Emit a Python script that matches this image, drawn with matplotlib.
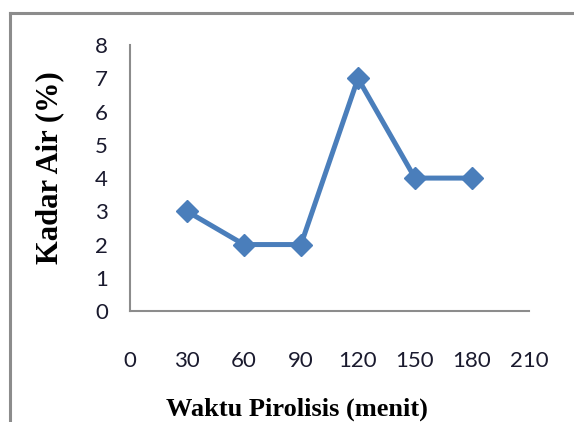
import matplotlib
matplotlib.use("Agg")
import matplotlib.pyplot as plt
from matplotlib.lines import Line2D

waktu = [30, 60, 90, 120, 150, 180]
kadar_air = [3, 2, 2, 7, 4, 4]
x_ticks = [0, 30, 60, 90, 120, 150, 180, 210]
y_ticks = [0, 1, 2, 3, 4, 5, 6, 7, 8]

fig = plt.figure(figsize=(5.74, 4.22), dpi=100)
ax = fig.add_axes([0.2265, 0.263, 0.695, 0.630])

ax.plot(waktu, kadar_air, color="#4A7EBB", linewidth=3.6, marker="D",
        markersize=11.5, markerfacecolor="#4A7EBB", markeredgecolor="#4A7EBB",
        solid_joinstyle="miter", clip_on=False, zorder=3)

ax.set_xlim(0, 210)
ax.set_ylim(0, 8)
ax.set_xticks(x_ticks)
ax.set_yticks(y_ticks)

tick_font = dict(family="Lato", size=16)
ax.set_xticklabels([str(v) for v in x_ticks], **tick_font)
ax.set_yticklabels([str(v) for v in y_ticks], **tick_font)
ax.tick_params(axis="both", length=0, colors="#1a1a2e")
ax.tick_params(axis="x", pad=29)
ax.tick_params(axis="y", pad=16)

for side in ("top", "right"):
    ax.spines[side].set_visible(False)
for side in ("left", "bottom"):
    ax.spines[side].set_color("#8C8C8C")
    ax.spines[side].set_linewidth(1.5)

ax.set_xlabel("Waktu Pirolisis (menit)", family="Liberation Serif",
              weight="bold", size=19)
ax.set_ylabel("Kadar Air (%)", family="Liberation Serif",
              weight="bold", size=22)
ax.xaxis.set_label_coords(0.4185, -0.325)
ax.yaxis.set_label_coords(-0.166, 0.541)

# frame around the chart area
fig.add_artist(Line2D([10 / 574, 1.0], [1 - 13 / 422, 1 - 13 / 422],
                      transform=fig.transFigure, color="#8C8C8C", linewidth=2.2))
fig.add_artist(Line2D([10 / 574, 10 / 574], [0.0, 1 - 13 / 422],
                      transform=fig.transFigure, color="#8C8C8C", linewidth=2.2))

fig.savefig("out.png", dpi=100)
